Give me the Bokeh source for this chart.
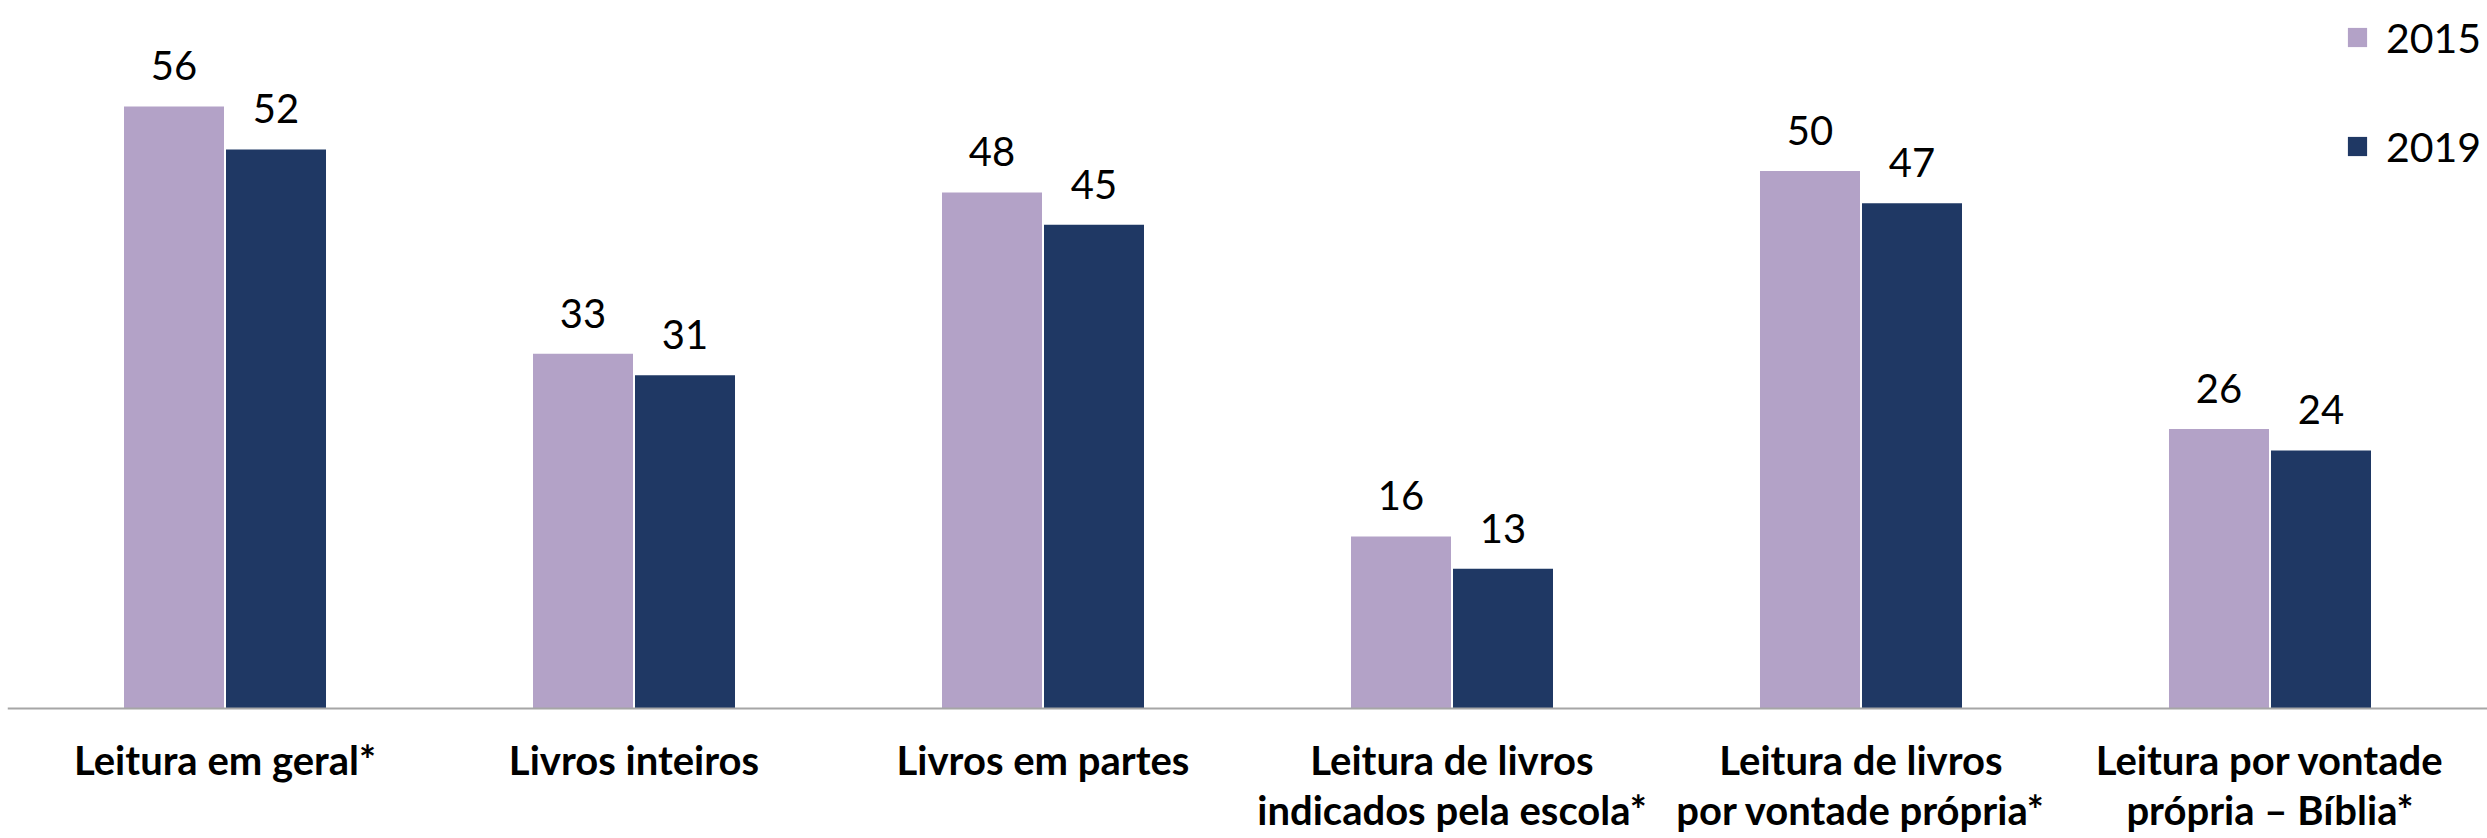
from bokeh.plotting import figure
from bokeh.models import (ColumnDataSource, FactorRange, Range1d, Legend,
                          LegendItem, LabelSet, Span)
from bokeh.transform import dodge
from bokeh.embed import file_html
from bokeh.resources import INLINE
from bokeh.core.properties import value

categories = [
    "Leitura em geral*",
    "Livros inteiros",
    "Livros em partes",
    "Leitura de livros\nindicados pela escola*",
    "Leitura de livros\npor vontade própria*",
    "Leitura por vontade\nprópria – Bíblia*",
]
years = ["2015", "2019"]
values_2015 = [56, 33, 48, 16, 50, 26]
values_2019 = [52, 31, 45, 13, 47, 24]
colors = ["#B3A2C7", "#1F3864"]

line1 = [c.split("\n")[0] for c in categories]
line2 = [c.split("\n")[1] if "\n" in c else "" for c in categories]

src = ColumnDataSource(dict(
    cat=categories,
    zero=[0] * len(categories),
    line1=line1,
    line2=line2,
    v2015=values_2015,
    v2019=values_2019,
    l2015=[str(v) for v in values_2015],
    l2019=[str(v) for v in values_2019],
))

p = figure(
    x_range=FactorRange(*categories, range_padding=0.0106,
                        range_padding_units="percent"),
    y_range=Range1d(-11.91, 65.86),
    width=2487, height=836,
    min_border_left=7, min_border_right=0,
    min_border_top=0, min_border_bottom=0,
    output_backend="svg", toolbar_location=None,
)

off = 0.1247
bw = 0.2445
r1 = p.vbar(x=dodge("cat", -off, range=p.x_range), top="v2015", width=bw,
            source=src, fill_color=colors[0], line_color=None)
r2 = p.vbar(x=dodge("cat", off, range=p.x_range), top="v2019", width=bw,
            source=src, fill_color=colors[1], line_color=None)

# value labels above the bars
for key, d in (("2015", -off), ("2019", off)):
    p.add_layout(LabelSet(
        x=dodge("cat", d, range=p.x_range), y="v" + key, text="l" + key,
        source=src, y_offset=26, text_align="center",
        text_baseline="alphabetic", text_font=value("Lato"),
        text_font_size="40px", text_color="black"))

# baseline (category axis line) at zero
p.add_layout(Span(location=0, dimension="width", line_color="#A6A6A6",
                  line_width=2))

# category labels below the baseline
for field, dy in (("line1", -67), ("line2", -117)):
    p.add_layout(LabelSet(
        x="cat", y="zero", text=field, source=src,
        y_offset=dy, text_align="center", text_baseline="alphabetic",
        text_font=value("Lato"), text_font_style="bold",
        text_font_size="40px", text_color="black"))

legend = Legend(
    items=[LegendItem(label=years[0], renderers=[r1]),
           LegendItem(label=years[1], renderers=[r2])],
    location=(2338, 665), orientation="vertical",
    glyph_width=24, glyph_height=24, label_standoff=17, spacing=59,
    label_height=50, padding=0, margin=0,
    border_line_alpha=0, background_fill_alpha=0,
    label_text_font="Lato", label_text_font_size="41px",
    label_text_color="black",
)
p.add_layout(legend)

p.xaxis.visible = False
p.yaxis.visible = False
p.xgrid.visible = False
p.ygrid.visible = False
p.outline_line_color = None

open("out.html", "w").write(file_html(p, INLINE))
